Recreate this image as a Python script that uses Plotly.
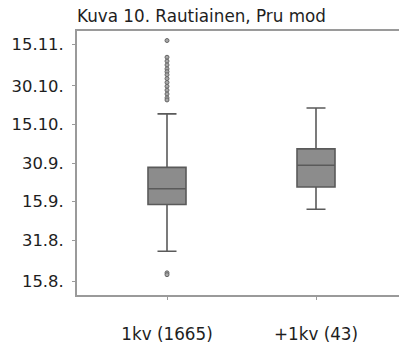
import plotly.graph_objects as go

# ---- data (day of year) ----
categories = ["1kv (1665)", "+1kv (43)"]
q1_vals = [256.9, 263.7]
median_vals = [263.0, 272.1]
q3_vals = [271.3, 278.5]
lower_whisker = [238.7, 255.0]
upper_whisker = [292.1, 294.4]
outliers_1kv = [320.6, 314.1, 312.6, 311.1, 309.6, 308.5, 307.3, 305.8, 304.3,
                302.8, 301.3, 299.8, 298.3, 297.5, 230.3, 229.6]
tick_vals = [227, 243, 258, 273, 288, 303, 319]
tick_text = ["15.8.", "31.8.", "15.9.", "30.9.", "15.10.", "30.10.", "15.11."]
title_text = "Kuva 10. Rautiainen, Pru mod"

FONT = "DejaVu Sans"
TXT = "#1e1e1e"

fig = go.Figure()
for i, cat in enumerate(categories):
    fig.add_trace(go.Box(
        x=[cat], q1=[q1_vals[i]], median=[median_vals[i]], q3=[q3_vals[i]],
        lowerfence=[lower_whisker[i]], upperfence=[upper_whisker[i]],
        width=0.255, whiskerwidth=0.5,
        fillcolor="#8c8c8c", line=dict(color="#5a5a5a", width=1.6),
        boxpoints=False, showlegend=False, hoverinfo="skip",
    ))

fig.add_trace(go.Scatter(
    x=[categories[0]] * len(outliers_1kv), y=outliers_1kv, mode="markers",
    marker=dict(symbol="circle", size=4, color="#a8a8a8",
                line=dict(color="#666666", width=1)),
    showlegend=False, hoverinfo="skip",
))

fig.update_layout(
    width=399, height=344,
    margin=dict(l=77, r=0, t=31, b=42),
    paper_bgcolor="white", plot_bgcolor="white",
    font=dict(family=FONT, size=16, color=TXT),
    annotations=[dict(text=title_text, x=0, y=1, xref="paper", yref="paper",
                      xanchor="left", yanchor="bottom", yshift=3, xshift=-2,
                      showarrow=False, font=dict(family=FONT, size=16.8, color=TXT))],
)
fig.update_xaxes(
    type="category", categoryorder="array", categoryarray=categories,
    range=[-0.604, 1.557], showgrid=False, zeroline=False,
    showline=True, linecolor="#9a9a9a", linewidth=2, mirror=True,
    ticks="outside", ticklen=3, tickcolor="#9a9a9a", tickwidth=1,
    tickfont=dict(family=FONT, size=16.8, color=TXT),
    ticklabelstandoff=20,
)
fig.update_yaxes(
    range=[221.7, 324.3], tickmode="array", tickvals=tick_vals, ticktext=tick_text,
    showgrid=False, zeroline=False,
    showline=True, linecolor="#9a9a9a", linewidth=2, mirror=False,
    ticks="outside", ticklen=3, tickcolor="#9a9a9a", tickwidth=1,
    tickfont=dict(family=FONT, size=16.4, color=TXT),
    ticklabelstandoff=5,
)

fig.write_html("out.html")
